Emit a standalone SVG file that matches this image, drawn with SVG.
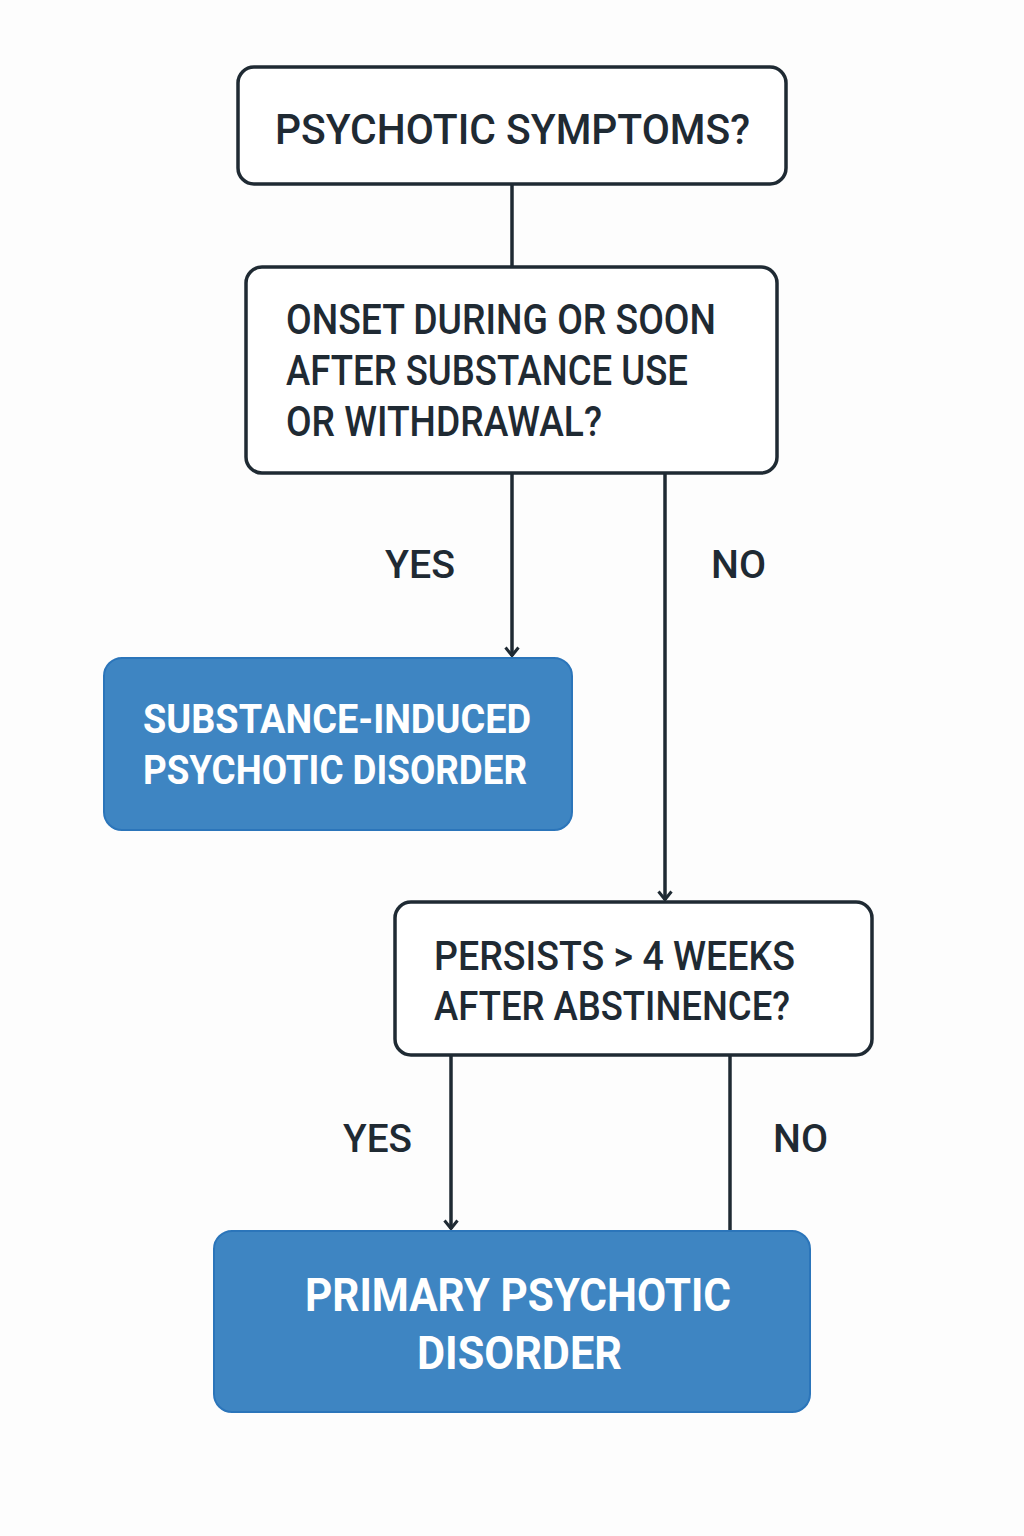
<svg xmlns="http://www.w3.org/2000/svg" width="1024" height="1536" viewBox="0 0 1024 1536">
<defs>
<style>
.box{fill:#ffffff;stroke:#1f2a33;stroke-width:3.5}
.term{fill:#3e85c2;stroke:#2b75ba;stroke-width:2}
.t{font-family:Roboto,"Liberation Sans",sans-serif;font-weight:500;fill:#1f2a33}
.w{font-family:Roboto,"Liberation Sans",sans-serif;font-weight:700;fill:#ffffff}
.line{stroke:#1f2a33;stroke-width:3.5;fill:none}
</style>
<marker id="arr" viewBox="0 0 12 16" refX="10.5" refY="8" markerWidth="12" markerHeight="16" markerUnits="userSpaceOnUse" orient="auto">
<path d="M2,1.5 L10,8 L2,14.5" fill="none" stroke="#1f2a33" stroke-width="3"/>
</marker>
</defs>
<rect width="1024" height="1536" fill="#fdfdfd"/>
<g id="connectors">
<path class="line" d="M512,184 V267"/>
<path class="line" d="M512,473 V656" marker-end="url(#arr)"/>
<path class="line" d="M665,473 V900" marker-end="url(#arr)"/>
<path class="line" d="M451,1055 V1229" marker-end="url(#arr)"/>
<path class="line" d="M730,1055 V1231"/>
<text class="t" x="385" y="578" font-size="38" textLength="70" lengthAdjust="spacingAndGlyphs">YES</text>
<text class="t" x="711" y="578" font-size="38" textLength="55" lengthAdjust="spacingAndGlyphs">NO</text>
<text class="t" x="343" y="1152" font-size="38" textLength="69" lengthAdjust="spacingAndGlyphs">YES</text>
<text class="t" x="773" y="1152" font-size="38" textLength="55" lengthAdjust="spacingAndGlyphs">NO</text>
</g>
<g id="n1">
<rect class="box" x="238" y="67" width="548" height="117" rx="16"/>
<text class="t" x="275" y="144" font-size="43" textLength="475" lengthAdjust="spacingAndGlyphs">PSYCHOTIC SYMPTOMS?</text>
</g>
<g id="n2">
<rect class="box" x="246" y="267" width="531" height="206" rx="16"/>
<text class="t" x="286" y="334" font-size="42" textLength="430" lengthAdjust="spacingAndGlyphs">ONSET DURING OR SOON</text>
<text class="t" x="286" y="385" font-size="42" textLength="402" lengthAdjust="spacingAndGlyphs">AFTER SUBSTANCE USE</text>
<text class="t" x="286" y="436" font-size="42" textLength="316" lengthAdjust="spacingAndGlyphs">OR WITHDRAWAL?</text>
</g>
<g id="n3">
<rect class="term" x="104" y="658" width="468" height="172" rx="18"/>
<text class="w" x="143" y="733" font-size="41" textLength="388" lengthAdjust="spacingAndGlyphs">SUBSTANCE-INDUCED</text>
<text class="w" x="143" y="784" font-size="41" textLength="384" lengthAdjust="spacingAndGlyphs">PSYCHOTIC DISORDER</text>
</g>
<g id="n4">
<rect class="box" x="395" y="902" width="477" height="153" rx="16"/>
<text class="t" x="434" y="970" font-size="40" textLength="361" lengthAdjust="spacingAndGlyphs">PERSISTS &gt; 4 WEEKS</text>
<text class="t" x="434" y="1020" font-size="40" textLength="356" lengthAdjust="spacingAndGlyphs">AFTER ABSTINENCE?</text>
</g>
<g id="n5">
<rect class="term" x="214" y="1231" width="596" height="181" rx="18"/>
<text class="w" x="305" y="1311" font-size="46" textLength="426" lengthAdjust="spacingAndGlyphs">PRIMARY PSYCHOTIC</text>
<text class="w" x="417" y="1369" font-size="46" textLength="205" lengthAdjust="spacingAndGlyphs">DISORDER</text>
</g>
</svg>
